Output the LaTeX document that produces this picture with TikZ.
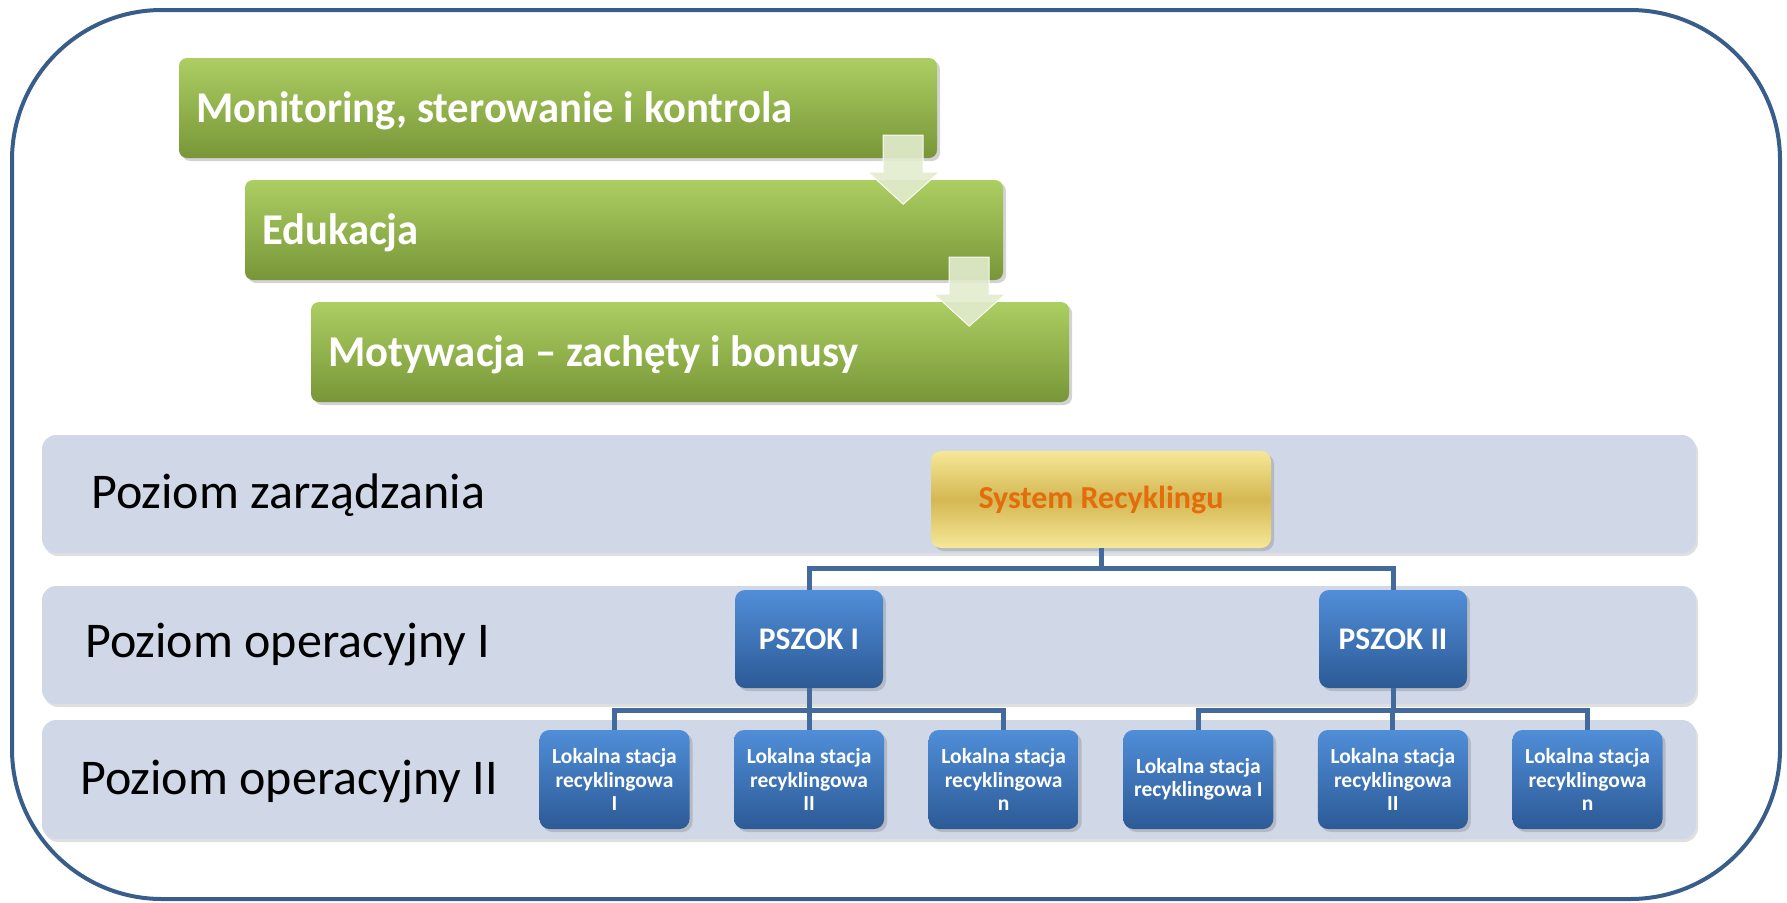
\documentclass[tikz,border=0pt]{standalone}
\usepackage{fontspec}
\setmainfont{Carlito}
\newfontfamily\stepfont[FakeStretch=0.97]{Carlito}
\usepackage{tikz}
\usetikzlibrary{shadows}
\definecolor{framecol}{RGB}{56,93,138}
\definecolor{bandcol}{RGB}{208,216,232}
\definecolor{greentop}{RGB}{172,206,98}
\definecolor{greenbot}{RGB}{120,150,56}
\definecolor{bluetop}{RGB}{80,142,216}
\definecolor{bluebot}{RGB}{44,90,150}
\definecolor{goldtop}{RGB}{246,232,152}
\definecolor{goldmid}{RGB}{212,184,82}
\definecolor{linkcol}{RGB}{66,106,156}
\definecolor{orangetxt}{RGB}{228,108,10}
\definecolor{chevcol}{RGB}{226,236,206}
\newcommand*{\stepx }{66}
\newcommand*{\stepy }{122}
\newcommand*{\stagap}{194.6}
\newcommand*{\chevron}[1]{%
    \draw [chev, shift={(#1)}] (-54,-23) -- (-14,-23) -- (-14,14) -- (2,14) -- (-34,46) -- (-69,14) -- (-54,14) -- cycle;}
\tikzset{
    shady/.style  = {drop shadow={opacity=0.35, shadow xshift=3pt, shadow yshift=-3pt}},
    tightspace/.style = {execute at begin node={\spaceskip=0pt\xspaceskip=0pt\relax}},
    greenbox/.style = {shade, top color=greentop, bottom color=greenbot, rounded corners=8pt, shady,
                       minimum height=100pt, text width=724pt, inner xsep=17pt, align=left, text=white,
                       text height=28pt, text depth=0pt, tightspace,
                       font=\stepfont\bfseries\fontsize{44}{50}\selectfont},
    bluebox/.style  = {shade, top color=bluetop, bottom color=bluebot, rounded corners=10pt, shady,
                       text=white, align=center, inner sep=0pt, tightspace},
    pszok/.style    = {bluebox, minimum width=148pt, minimum height=98pt, font=\bfseries\fontsize{31.5}{36}\selectfont},
    stacja/.style   = {bluebox, minimum width=150pt, minimum height=99pt, font=\bfseries\fontsize{21.5}{23.5}\selectfont},
    goldbox/.style  = {shade, top color=goldtop, bottom color=goldtop, middle color=goldmid, rounded corners=10pt, shady,
                       minimum width=340pt, minimum height=97pt, text=orangetxt, font=\bfseries\fontsize{32}{38}\selectfont},
    band/.style   = {fill=bandcol, rounded corners=14pt, drop shadow={opacity=0.25, shadow xshift=2pt, shadow yshift=-3pt}},
    level/.style  = {anchor=west, inner sep=0pt, font=\fontsize{50}{60}\selectfont},
    link/.style   = {draw=linkcol, line width=5pt},
    chev/.style   = {fill=chevcol, draw=white, line width=1pt, opacity=0.9},
}

\begin{document}
\begin{tikzpicture}[x=1pt, y=-1pt]
    \useasboundingbox (0,0) rectangle (1787,902);
    \draw [framecol, line width=4pt, rounded corners=150pt] (12,10) rectangle (1780,899);
    % three levels
    \path [band] (42,435) rectangle (1696,553);
    \path [band] (42,586) rectangle (1696,704);
    \path [band] (42,720) rectangle (1696,839);
    \node [level] (lvlz) at (91,495) {Poziom zarządzania};
    \node [level] (lvlo) at (85,645) {Poziom operacyjny I};
    \node [level] (lvlt) at (80,782) {Poziom operacyjny II};
    % green steps
    \node [greenbox] (mon) at (558,108) {Monitoring, sterowanie i kontrola};
    \node [greenbox] (edu) at ({558+\stepx},{108+\stepy}) {Edukacja};
    \node [greenbox] (mot) at ({558+2*\stepx},{108+2*\stepy}) {Motywacja – zachęty i bonusy};
    \chevron{mon.south east}
    \chevron{edu.south east}
    % org chart
    \node [goldbox] (sys) at (1101,499.5) {System Recyklingu};
    \node [pszok] (p1) at (809,639) {PSZOK I};
    \node [pszok] (p2) at (1393,639) {PSZOK II};
    \foreach \i/\txt in {1/{Lokalna stacja\\recyklingowa\\I}, 2/{Lokalna stacja\\recyklingowa\\II}, 3/{Lokalna stacja\\recyklingowa\\n},
                         4/{Lokalna stacja\\recyklingowa I}, 5/{Lokalna stacja\\recyklingowa\\II}, 6/{Lokalna stacja\\recyklingowa\\n}}
        \node [stacja] (l\i) at ({614.5+(\i-1)*\stagap},779.5) {\txt};
    \draw [link] (sys.south) -- ++(0,20) -| (p1.north);
    \draw [link] (sys.south) -- ++(0,20) -| (p2.north);
    \foreach \i in {1,2,3} \draw [link] (p1.south) -- ++(0,22) -| (l\i.north);
    \foreach \i in {4,5,6} \draw [link] (p2.south) -- ++(0,22) -| (l\i.north);
\end{tikzpicture}
\end{document}
